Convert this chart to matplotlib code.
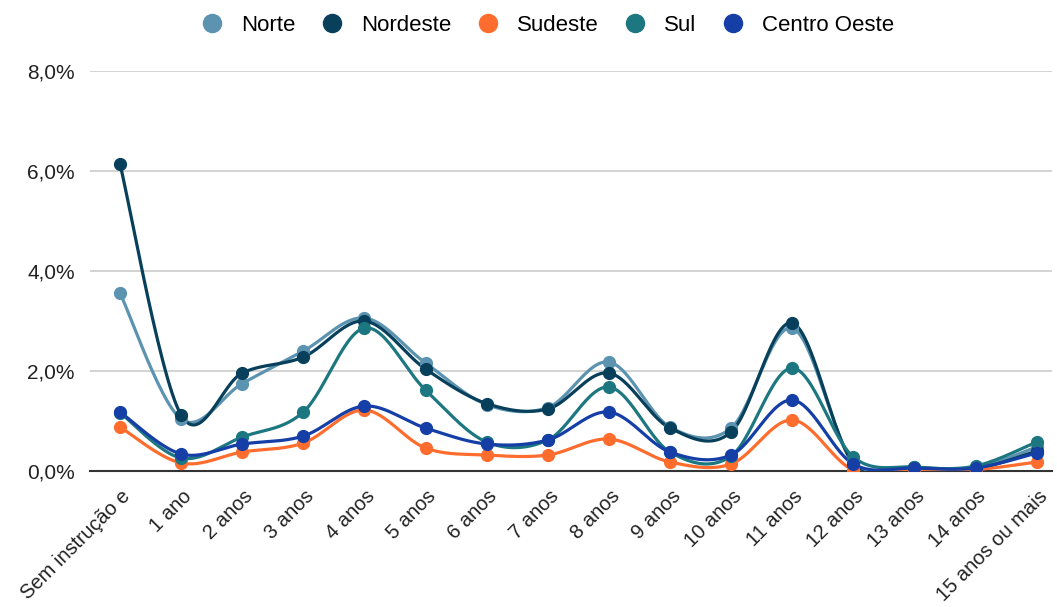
import numpy as np
import matplotlib
matplotlib.use("Agg")
import matplotlib.pyplot as plt
from matplotlib.lines import Line2D
import matplotlib.transforms as mtransforms

plt.rcParams['font.family'] = ['Liberation Sans', 'DejaVu Sans']

categories = ["Sem instrução e", "1 ano", "2 anos", "3 anos", "4 anos", "5 anos",
              "6 anos", "7 anos", "8 anos", "9 anos", "10 anos", "11 anos",
              "12 anos", "13 anos", "14 anos", "15 anos ou mais"]

norte = [3.56, 1.04, 1.75, 2.40, 3.06, 2.16, 1.33, 1.27, 2.18, 0.88, 0.86, 2.86, 0.18, 0.08, 0.07, 0.48]
nordeste = [6.14, 1.12, 1.96, 2.28, 3.00, 2.04, 1.35, 1.24, 1.96, 0.86, 0.78, 2.96, 0.15, 0.07, 0.05, 0.40]
sudeste = [0.88, 0.16, 0.38, 0.56, 1.22, 0.46, 0.32, 0.32, 0.64, 0.18, 0.14, 1.02, 0.02, 0.03, 0.03, 0.18]
sul = [1.17, 0.26, 0.68, 1.18, 2.86, 1.62, 0.58, 0.62, 1.68, 0.38, 0.30, 2.06, 0.28, 0.08, 0.10, 0.58]
centro_oeste = [1.18, 0.34, 0.54, 0.70, 1.30, 0.86, 0.54, 0.62, 1.18, 0.38, 0.32, 1.42, 0.14, 0.06, 0.06, 0.36]

series_names = ["Norte", "Nordeste", "Sudeste", "Sul", "Centro Oeste"]
series_values = [norte, nordeste, sudeste, sul, centro_oeste]
colors = ["#5b93b0", "#08405c", "#ff6d2e", "#1d7780", "#153fa6"]

y_ticks = [0, 2, 4, 6, 8]
y_tick_labels = ["0,0%", "2,0%", "4,0%", "6,0%", "8,0%"]


def smooth(x, y, n=30, tension=0.5):
    x = np.asarray(x, float)
    y = np.asarray(y, float)
    m = len(x)
    tx = np.zeros(m)
    ty = np.zeros(m)
    for i in range(m):
        i0 = max(i - 1, 0)
        i1 = min(i + 1, m - 1)
        tx[i] = (x[i1] - x[i0]) * tension
        ty[i] = (y[i1] - y[i0]) * tension
    xs, ys = [], []
    t = np.linspace(0, 1, n)
    h00 = 2 * t**3 - 3 * t**2 + 1
    h10 = t**3 - 2 * t**2 + t
    h01 = -2 * t**3 + 3 * t**2
    h11 = t**3 - t**2
    for i in range(m - 1):
        xs.append(h00 * x[i] + h10 * tx[i] + h01 * x[i + 1] + h11 * tx[i + 1])
        ys.append(h00 * y[i] + h10 * ty[i] + h01 * y[i + 1] + h11 * ty[i + 1])
    return np.concatenate(xs), np.concatenate(ys)


fig = plt.figure(figsize=(10.57, 6.07), dpi=100)
ax = fig.add_axes([0.0852, 0.224, 0.9100, 0.659])

x = np.arange(len(categories))
for name, vals, c in zip(series_names, series_values, colors):
    sx, sy = smooth(x, vals)
    ax.plot(sx, sy, color=c, lw=2.3, solid_capstyle='round', zorder=3)
    ax.plot(x, vals, 'o', color=c, ms=8.5, zorder=4, label=name)

ax.set_xlim(-0.49, 15.25)
ax.set_ylim(0, 8)
ax.set_yticks(y_ticks)
ax.set_yticklabels(y_tick_labels, fontsize=15, color="#222222")
ax.set_xticks(x)
ax.set_xticklabels(categories, rotation=45, ha='right', rotation_mode='anchor',
                   fontsize=14.5, color="#222222")
ax.tick_params(axis='both', length=0)
ax.tick_params(axis='y', pad=11)
ax.tick_params(axis='x', pad=4)
offset = mtransforms.ScaledTranslation(1 / 100, -10 / 100, fig.dpi_scale_trans)
for lab in ax.get_xticklabels():
    lab.set_transform(lab.get_transform() + offset)
ax.grid(axis='y', color="#cccccc", lw=1.2, zorder=0)
for s in ["top", "right", "left"]:
    ax.spines[s].set_visible(False)
ax.spines["bottom"].set_color("#333333")
ax.spines["bottom"].set_linewidth(1.5)
ax.spines["bottom"].set_zorder(2)

handles = [Line2D([], [], marker='o', ls='none', color=c, ms=13) for c in colors]
fig.legend(handles, series_names, loc='upper center', bbox_to_anchor=(0.518, 1.009),
           ncol=5, frameon=False, fontsize=16, handletextpad=0.8, columnspacing=1.15,
           handlelength=1.0)

fig.savefig("out.png", dpi=100)
